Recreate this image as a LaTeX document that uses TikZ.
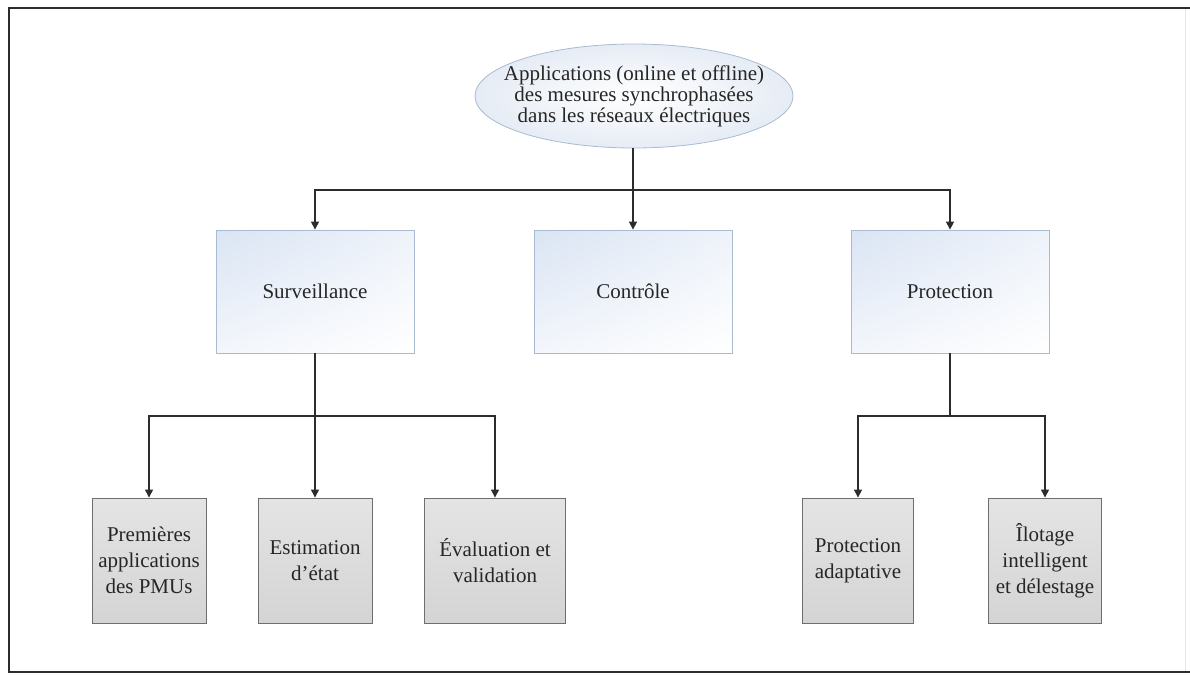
\documentclass[tikz,border=0pt]{standalone}
\usepackage{fontspec}
\setmainfont{Liberation Serif}
\usetikzlibrary{shapes.geometric,arrows.meta,shadings}

\definecolor{inkc}{HTML}{262626}
\definecolor{linec}{HTML}{2C2C2C}
\definecolor{blueedge}{HTML}{A9BBD1}
\definecolor{grayedge}{HTML}{6E6E6E}
\definecolor{ellout}{HTML}{E6ECF5}
\definecolor{bulA}{HTML}{DAE4F4}
\definecolor{bulB}{HTML}{EEF3FA}
\definecolor{bulC}{HTML}{F3F6FB}
\definecolor{grtop}{HTML}{E4E4E4}
\definecolor{grmid}{HTML}{F2F2F2}
\definecolor{grbot}{HTML}{D4D4D4}

\tikzset{
  rootnode/.style={ellipse, draw=blueedge, line width=0.8pt,
    inner color=white, outer color=ellout,
    minimum width=318pt, minimum height=104pt,
    inner xsep=-40pt, inner ysep=-20pt,
    align=center, text=inkc, font=\fontsize{21}{21}\selectfont},
  midbox/.style={rectangle, draw=blueedge, line width=0.8pt,
    upper left=bulA, upper right=bulB, lower left=bulC, lower right=white,
    minimum width=198pt, minimum height=123pt, inner sep=0pt,
    align=center, text=inkc, font=\fontsize{21}{24}\selectfont},
  leafbox/.style={rectangle, draw=grayedge, line width=0.9pt,
    top color=grtop, middle color=grmid, bottom color=grbot,
    minimum height=125pt, inner sep=0pt,
    align=center, text=inkc, font=\fontsize{21}{26}\selectfont},
  link/.style={draw=linec, line width=1.3pt},
  arrowlink/.style={link, -{Triangle[length=8pt,width=8pt]}},
}

\begin{document}
\begin{tikzpicture}[x=1pt,y=-1pt]
  \useasboundingbox (0,0) rectangle (1190,675);

  % outer frame
  \draw[gray!20, line width=0.8pt] (1185,8) -- (1185,672);
  \draw[linec, line width=2.8pt] (1190,8) -- (9,8) -- (9,672) -- (1190,672);

  % root
  \node[rootnode] (root) at (634,96)
    {Applications (online et offline)\\des mesures synchrophasées\\dans les réseaux électriques};

  % second level
  \node[midbox] (surv) at (315,291.5) {Surveillance};
  \node[midbox] (ctrl) at (633,291.5) {Contrôle};
  \node[midbox] (prot) at (950,291.5) {Protection};

  % third level
  \node[leafbox, minimum width=114pt] (prem) at (149,560.5)
    {Premières\\applications\\des PMUs};
  \node[leafbox, minimum width=114pt] (est) at (315,560.5)
    {Estimation\\d’état};
  \node[leafbox, minimum width=141pt] (eval) at (495,560.5)
    {Évaluation et\\validation};
  \node[leafbox, minimum width=111pt] (padapt) at (858,560.5)
    {Protection\\adaptative};
  \node[leafbox, minimum width=113pt] (ilot) at (1045,560.5)
    {Îlotage\\intelligent\\et délestage};

  % junctions of the buses
  \coordinate (j1) at (633,190);
  \coordinate (j2) at (315,416);
  \coordinate (j3) at (950,416);

  % root to second level
  \draw[link] (root.south -| j1) -- (j1);
  \draw[arrowlink] (j1) -| (surv.north);
  \draw[arrowlink] (j1) -- (ctrl.north);
  \draw[arrowlink] (j1) -| (prot.north);

  % surveillance branch
  \draw[link] (surv.south) -- (j2);
  \draw[arrowlink] (j2) -| (prem.north);
  \draw[arrowlink] (j2) -- (est.north);
  \draw[arrowlink] (j2) -| (eval.north);

  % protection branch
  \draw[link] (prot.south) -- (j3);
  \draw[arrowlink] (j3) -| (padapt.north);
  \draw[arrowlink] (j3) -| (ilot.north);
\end{tikzpicture}
\end{document}
